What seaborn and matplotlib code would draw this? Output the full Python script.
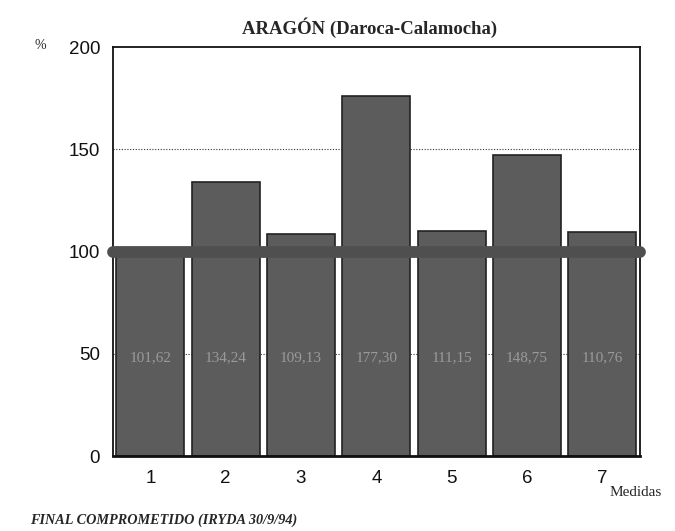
import matplotlib
matplotlib.use("Agg")
import matplotlib.pyplot as plt
import seaborn as sns
import pandas as pd

medidas = ["1", "2", "3", "4", "5", "6", "7"]
valores = [101.6, 133.9, 108.6, 176.0, 110.2, 147.4, 109.6]
etiquetas = ["101,62", "134,24", "109,13", "177,30", "111,15", "148,75", "110,76"]
referencia = 100
yticks = [0, 50, 100, 150, 200]

sns.set_theme(style="white")
plt.rcParams['font.family'] = ['Liberation Sans', 'DejaVu Sans']

df = pd.DataFrame({"Medidas": medidas, "Valor": valores})

fig = plt.figure(figsize=(6.75, 5.31), dpi=100)
ax = fig.add_axes([0.167, 0.141, 0.781, 0.770])

sns.barplot(data=df, x="Medidas", y="Valor", color="#5c5c5c", saturation=1,
            width=0.9, edgecolor="#222222", linewidth=1.2, ax=ax, zorder=2)

for y in [50, 150]:
    ax.axhline(y, color="#333333", lw=0.8, ls=(0, (1, 1.5)), zorder=1)

ax.axhline(referencia, color="#4f4f4f", lw=8.5, solid_capstyle="round",
           zorder=3, clip_on=False)

for i, t in enumerate(etiquetas):
    ax.text(i, 48, t, ha="center", va="center", color="#9a9a9a",
            family=["Liberation Serif"], fontsize=11, zorder=4)

ax.set_ylim(0, 200)
ax.set_xlim(-0.5, 6.5)
ax.set_yticks(yticks)
ax.set_yticklabels([str(v) for v in yticks])
ax.tick_params(axis="both", labelsize=13.5, length=0, colors="#111111")
ax.tick_params(axis="x", pad=10)
ax.tick_params(axis="y", pad=9)
ax.set_xlabel("")
ax.set_ylabel("")
for s in ax.spines.values():
    s.set_color("#111111")
    s.set_linewidth(1.3)
ax.spines["bottom"].set_linewidth(2)

fig.text(0.548, 0.948, "ARAGÓN (Daroca-Calamocha)", ha="center", va="center",
         family=["Liberation Serif"], fontweight="bold", fontsize=13.5)
fig.text(0.06, 0.915, "%", ha="center", va="center",
         family=["Liberation Serif"], fontsize=10)
fig.text(0.942, 0.073, "Medidas", ha="center", va="center",
         family=["Liberation Serif"], fontsize=11)
fig.text(0.045, 0.02, "FINAL COMPROMETIDO (IRYDA 30/9/94)", ha="left", va="center",
         family=["Liberation Serif"], fontstyle="italic", fontweight="bold", fontsize=10.3)

fig.savefig("out.png", dpi=100, facecolor="white")
